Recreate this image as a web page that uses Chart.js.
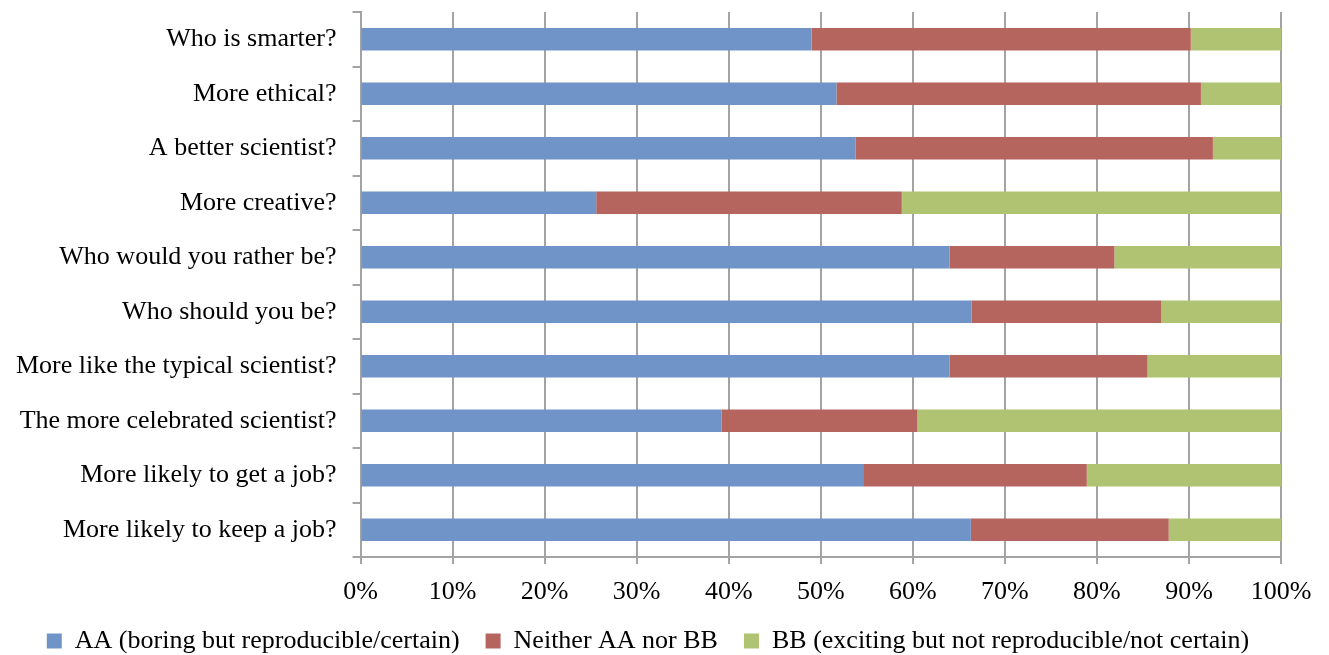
<!DOCTYPE html>
<html>
<head>
<meta charset="utf-8">
<script src="https://cdn.jsdelivr.net/npm/chart.js@4"></script>
<style>
  html, body { margin: 0; padding: 0; background: #fff; }
  #wrap { width: 1329px; height: 655px; }
</style>
</head>
<body>
<div id="wrap"><canvas id="surveyChart"></canvas></div>
<script>
const questions = [
    'Who is smarter?',
    'More ethical?',
    'A better scientist?',
    'More creative?',
    'Who would you rather be?',
    'Who should you be?',
    'More like the typical scientist?',
    'The more celebrated scientist?',
    'More likely to get a job?',
    'More likely to keep a job?'
];

// percent of respondents
const aaValues = [49.0, 51.7, 53.8, 25.6, 64.0, 66.4, 64.0, 39.2, 54.6, 66.3];
const neitherValues = [41.2, 39.6, 38.8, 33.2, 17.9, 20.6, 21.5, 21.3, 24.3, 21.5];
const bbValues = [9.8, 8.7, 7.4, 41.2, 18.1, 13.0, 14.5, 39.5, 21.1, 12.2];

const seriesNames = [
    'AA (boring but reproducible/certain)',
    'Neither AA nor BB',
    'BB (exciting but not reproducible/not certain)'
];

const font = { family: '"Liberation Serif", "Times New Roman", serif', size: 26 };
const gridGray = '#a3a3a3';

const ctx = document.getElementById('surveyChart').getContext('2d');

new Chart(ctx, {
    type: 'bar',
    data: {
        labels: questions,
        datasets: [
            { label: seriesNames[0], data: aaValues, backgroundColor: '#7194c8' },
            { label: seriesNames[1], data: neitherValues, backgroundColor: '#b6655e' },
            { label: seriesNames[2], data: bbValues, backgroundColor: '#b0c372' }
        ]
    },
    options: {
        indexAxis: 'y',
        responsive: true,
        maintainAspectRatio: false,
        animation: false,
        datasets: { bar: { categoryPercentage: 0.41, barPercentage: 1.0 } },
        layout: { padding: { top: 12, right: 48, left: 15, bottom: -9 } },
        plugins: {
            legend: {
                display: true,
                position: 'bottom',
                labels: {
                    font: font,
                    color: '#000',
                    boxWidth: 15,
                    boxHeight: 15,
                    padding: 26
                }
            },
            tooltip: { enabled: false }
        },
        scales: {
            x: {
                stacked: true,
                min: 0,
                max: 100,
                ticks: {
                    stepSize: 10,
                    color: '#000',
                    font: font,
                    padding: 13,
                    callback: v => v + '%'
                },
                grid: { color: gridGray, lineWidth: 2, tickLength: 7 },
                border: { color: gridGray, width: 2 },
                afterFit: scale => {
                    scale.height = 45;
                    scale.paddingRight = 0;
                }
            },
            y: {
                stacked: true,
                ticks: { color: '#000', font: font, padding: 16 },
                grid: { drawOnChartArea: false, color: gridGray, lineWidth: 2, tickLength: 8, offset: true },
                border: { color: gridGray, width: 2 },
                afterFit: scale => {
                    scale.width -= 15;
                    scale.paddingTop = 0;
                    scale.paddingBottom = 0;
                }
            }
        }
    }
});
</script>
</body>
</html>
